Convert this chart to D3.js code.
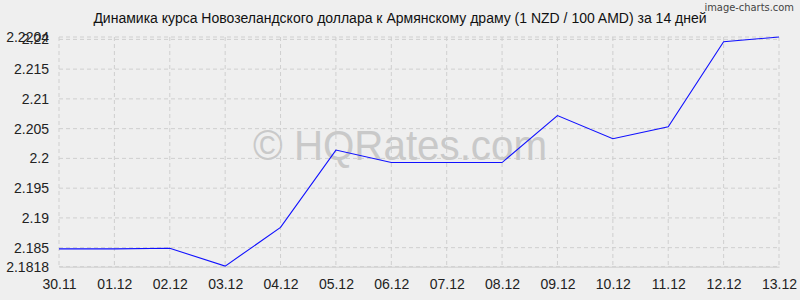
<!DOCTYPE html>
<html>
<head>
<meta charset="utf-8">
<script src="https://cdn.jsdelivr.net/npm/d3@7"></script>
<style>
  body { margin: 0; background: #efefef; }
  svg { display: block; }
</style>
</head>
<body>
<svg id="chart" width="800" height="300"></svg>
<script>
const dates = ["30.11", "01.12", "02.12", "03.12", "04.12", "05.12", "06.12",
               "07.12", "08.12", "09.12", "10.12", "11.12", "12.12", "13.12"];
const rates = [2.1848, 2.1848, 2.1849, 2.1819, 2.1884, 2.2014, 2.1993,
               2.1993, 2.1993, 2.2072, 2.2033, 2.2053, 2.2196, 2.2204];
const yTicks = [2.1818, 2.185, 2.19, 2.195, 2.2, 2.205, 2.21, 2.215, 2.22, 2.2204];
const title = "Динамика курса Новозеландского доллара к Армянскому драму (1 NZD / 100 AMD) за 14 дней";

const svg = d3.select("#chart"),
      plotLeft = 59, plotRight = 779, plotTop = 37, plotBottom = 266.7,
      font = "'Liberation Sans', Arial, sans-serif";

svg.append("rect").attr("width", 800).attr("height", 300).attr("fill", "#efefef");

let x = d3.scalePoint().domain(dates).range([plotLeft, plotRight]);
let y = d3.scaleLinear().domain([2.1818, 2.2204]).range([plotBottom, plotTop]);

// grid
svg.append("g")
  .selectAll("line")
  .data(yTicks)
  .join("line")
    .attr("x1", plotLeft).attr("x2", plotRight)
    .attr("y1", d => y(d)).attr("y2", d => y(d))
    .attr("stroke", "#cfcfcf")
    .attr("stroke-dasharray", "4,3");

svg.append("g")
  .selectAll("line")
  .data(dates)
  .join("line")
    .attr("x1", d => x(d)).attr("x2", d => x(d))
    .attr("y1", plotTop).attr("y2", plotBottom)
    .attr("stroke", "#cfcfcf")
    .attr("stroke-dasharray", "4,3");

// watermark
const wm = svg.append("text")
  .attr("x", 400).attr("y", 160)
  .attr("text-anchor", "middle")
  .attr("font-family", font)
  .attr("font-size", 42)
  .attr("fill", "#c9c9c9")
  .text("© HQRates.com");
if (wm.node().getComputedTextLength() > 0) wm.attr("textLength", 294).attr("lengthAdjust", "spacingAndGlyphs");

// axes
const yAxis = d3.axisLeft(y).tickValues(yTicks).tickSize(0).tickPadding(10)
  .tickFormat(d => String(+d.toFixed(4)));
const gy = svg.append("g").attr("transform", `translate(${plotLeft},0)`).call(yAxis);
gy.select(".domain").remove();
gy.selectAll("text").attr("font-family", font).attr("font-size", 14).attr("fill", "#222");

const xAxis = d3.axisBottom(x).tickSize(0).tickPadding(12);
const gx = svg.append("g").attr("transform", `translate(0,${plotBottom})`).call(xAxis);
gx.select(".domain").attr("stroke", "#cfcfcf");
gx.selectAll("text").attr("font-family", font).attr("font-size", 14).attr("fill", "#222");

// line
let line = d3.line().x((d, i) => x(dates[i])).y(d => y(d));
svg.append("path")
  .datum(rates)
  .attr("d", line)
  .attr("fill", "none")
  .attr("stroke", "#1010ff")
  .attr("stroke-width", 1.1);

// title
svg.append("text")
  .attr("x", 400).attr("y", 23)
  .attr("text-anchor", "middle")
  .attr("font-family", font)
  .attr("font-size", 14)
  .attr("fill", "#111")
  .text(title);

svg.append("text")
  .attr("x", 794).attr("y", 11)
  .attr("text-anchor", "end")
  .attr("font-family", "'DejaVu Sans Condensed', 'DejaVu Sans', sans-serif")
  .attr("font-size", 11)
  .attr("fill", "#444")
  .text("image-charts.com");
</script>
</body>
</html>
